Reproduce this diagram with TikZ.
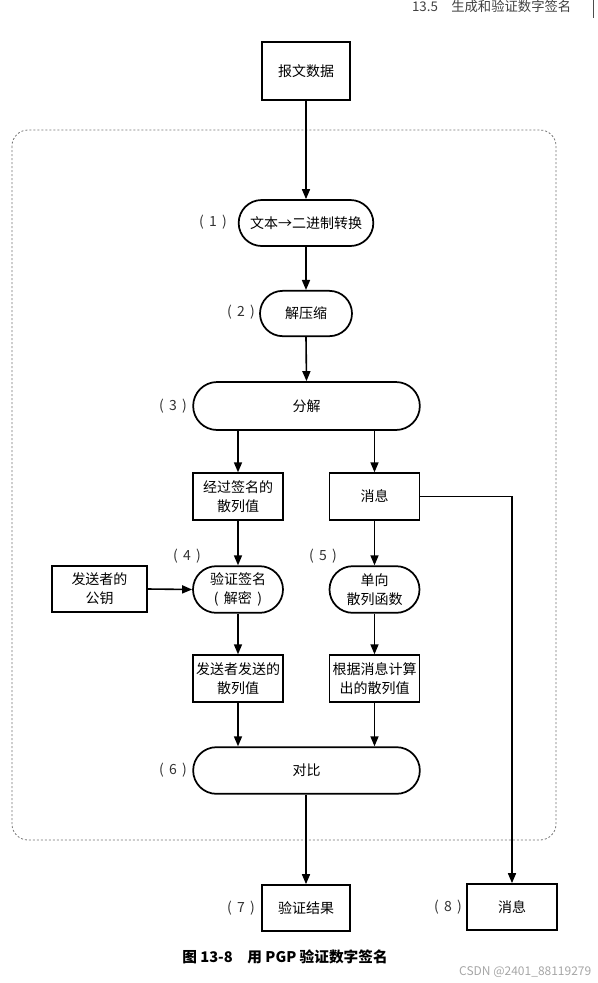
\documentclass[tikz,border=0pt]{standalone}
\usepackage{fontspec}
\setmainfont{Noto Sans CJK SC}
\usetikzlibrary{arrows.meta,shapes.misc}
\begin{document}
\begin{tikzpicture}[x=0.75pt,y=-0.75pt,
  box/.style={draw, line width=1.3pt, inner sep=0pt, align=center, font=\fontsize{10.5}{14.5}\selectfont},
  pill/.style={rounded rectangle, draw, line width=1.3pt, inner sep=0pt, align=center, font=\fontsize{10.5}{14.5}\selectfont},
  lbl/.style={font=\fontsize{10.5}{12}\selectfont, text=black!80},
  arr/.style={line width=1.2pt, -{Triangle[length=7.5pt,width=6pt]}}]
\useasboundingbox (0,0) rectangle (597,983);
% header
\node[font=\fontsize{10}{11}\selectfont, text=black!75, anchor=east] (hdr) at (576,6) {13.5\quad 生成和验证数字签名};
\draw[line width=0.7pt, black!70] (593,0) -- (593,18);
% dashed frame
\draw[black!55, line width=0.6pt, dash pattern=on 1.5pt off 1.5pt, rounded corners=12pt] (12,130) rectangle (556,840);
% nodes
\node[box, minimum width=66pt, minimum height=43pt] (data) at (306,71) {报文数据};
\node[pill, minimum width=101pt, minimum height=34.5pt] (p1) at (306,223) {文本→二进制转换};
\node[pill, minimum width=69pt, minimum height=34pt] (p2) at (306,313.5) {解压缩};
\node[pill, minimum width=170pt, minimum height=36pt] (p3) at (306.5,406) {分解};
\node[box, minimum width=67.5pt, minimum height=35pt] (sig) at (238,496.5) {经过签名的\\散列值};
\node[box, minimum width=67.5pt, minimum height=35pt] (msg) at (374.5,496.5) {消息};
\node[pill, minimum width=67.5pt, minimum height=35pt] (ver) at (238,589.5) {验证签名\\(\hspace{4pt}解密\hspace{4pt})};
\node[box, minimum width=71pt, minimum height=34.5pt] (key) at (99.5,589) {发送者的\\公钥};
\node[pill, minimum width=67.5pt, minimum height=35pt] (hash) at (374.5,589.5) {单向\\散列函数};
\node[box, minimum width=67.5pt, minimum height=35pt] (sent) at (238,678.5) {发送者发送的\\散列值};
\node[box, minimum width=67.5pt, minimum height=35pt] (calc) at (374.5,678.5) {根据消息计算\\出的散列值};
\node[pill, minimum width=170pt, minimum height=35pt] (cmp) at (306.5,770.5) {对比};
\node[box, minimum width=66pt, minimum height=34.5pt] (res) at (306,908) {验证结果};
\node[box, minimum width=67.5pt, minimum height=34.5pt] (out) at (512,907) {消息};
% step labels
\node[lbl] (l1) at (213,222) {(\hspace{4pt}1\hspace{4pt})};
\node[lbl] (l2) at (241,312) {(\hspace{4pt}2\hspace{4pt})};
\node[lbl] (l3) at (173,406) {(\hspace{4pt}3\hspace{4pt})};
\node[lbl] (l4) at (187,556) {(\hspace{4pt}4\hspace{4pt})};
\node[lbl] (l5) at (323,556) {(\hspace{4pt}5\hspace{4pt})};
\node[lbl] (l6) at (173,770) {(\hspace{4pt}6\hspace{4pt})};
\node[lbl] (l7) at (241,908) {(\hspace{4pt}7\hspace{4pt})};
\node[lbl] (l8) at (448,907) {(\hspace{4pt}8\hspace{4pt})};
% connectors
\draw[arr] (data.south) -- (p1.north);
\draw[arr] (p1.south) -- (p2.north);
\draw[arr] (p2.south) -- (p3.north);
\draw[arr] (p3.south -| sig.north) -- (sig.north);
\draw[arr] (p3.south -| msg.north) -- (msg.north);
\draw[arr] (sig.south) -- (ver.north);
\draw[arr] (key.east) -- (ver.west);
\draw[arr] (msg.south) -- (hash.north);
\draw[arr] (ver.south) -- (sent.north);
\draw[arr] (hash.south) -- (calc.north);
\draw[arr] (sent.south) -- (sent.south |- cmp.north);
\draw[arr] (calc.south) -- (calc.south |- cmp.north);
\draw[arr] (cmp.south -| res.north) -- (res.north);
\draw[arr] (msg.east) -| (out.north);
% caption and watermark
\node[font=\fontsize{11}{12}\selectfont\bfseries] (cap) at (285,957) {图 13-8\quad 用 PGP 验证数字签名};
\node[font=\fontsize{9}{10}\selectfont, text=black!35, anchor=east] (wm) at (596,972) {CSDN @2401\_88119279};
\end{tikzpicture}
\end{document}
